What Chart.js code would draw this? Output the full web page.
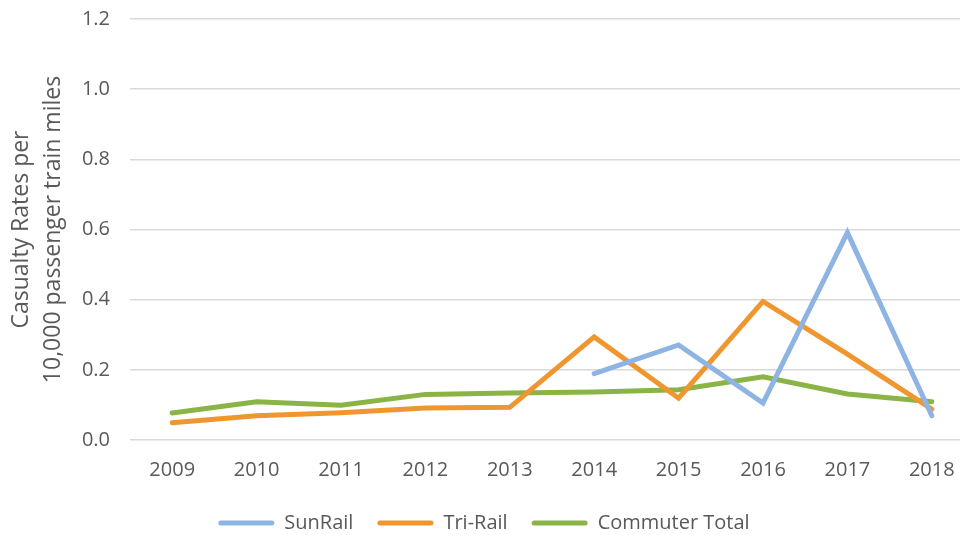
<!DOCTYPE html>
<html>
<head>
<meta charset="utf-8">
<script src="https://cdn.jsdelivr.net/npm/chart.js@4"></script>
<style>
  html, body { margin: 0; padding: 0; background: #fff; overflow: hidden; }
  #wrap { width: 960px; height: 535px; overflow: hidden; }
</style>
</head>
<body>
<div id="wrap"><canvas id="myChart" width="980" height="535"></canvas></div>
<script>
// 차트 데이터
const years = ['2009', '2010', '2011', '2012', '2013', '2014', '2015', '2016', '2017', '2018'];
const sunRail = [null, null, null, null, null, 0.189, 0.271, 0.105, 0.591, 0.069];
const triRail = [0.049, 0.069, 0.078, 0.091, 0.093, 0.294, 0.119, 0.395, 0.245, 0.088];
const commuterTotal = [0.077, 0.109, 0.099, 0.130, 0.134, 0.137, 0.143, 0.180, 0.131, 0.109];
const yTicks = [0, 0.2, 0.4, 0.6, 0.8, 1.0, 1.2];

const font = 'Open Sans';
const textColor = '#595959';

function line(label, data, color) {
    return {
        label: label,
        data: data,
        borderColor: color,
        backgroundColor: color,
        borderWidth: 5,
        borderCapStyle: 'round',
        pointRadius: 0,
        pointHoverRadius: 0,
        tension: 0,
        spanGaps: false
    };
}

const chartCanvas = document.getElementById('myChart');
const myChart = new Chart(chartCanvas, {
    type: 'line',
    data: {
        labels: years,
        datasets: [
            line('SunRail', sunRail, '#8eb4e3'),
            line('Tri-Rail', triRail, '#f0962e'),
            line('Commuter Total', commuterTotal, '#8ab446')
        ]
    },
    options: {
        responsive: false,
        animation: false,
        layout: { padding: { left: -6, right: 6, top: 19, bottom: -8 } },
        plugins: {
            tooltip: { enabled: false },
            legend: {
                position: 'bottom',
                labels: {
                    font: { family: font, size: 20 },
                    color: textColor,
                    boxWidth: 56,
                    boxHeight: 5,
                    padding: 24,
                    useBorderRadius: true,
                    borderRadius: 2.5,
                    generateLabels: function (chart) {
                        const items = Chart.defaults.plugins.legend.labels.generateLabels(chart);
                        items.forEach(it => { it.lineWidth = 0; });
                        return items;
                    }
                }
            }
        },
        scales: {
            x: {
                offset: true,
                grid: { display: false },
                border: { display: false },
                ticks: {
                    font: { family: font, size: 20 },
                    color: textColor,
                    padding: 10,
                    maxRotation: 0
                },
                afterFit: function (scale) { scale.height = 49; }
            },
            y: {
                min: 0,
                max: 1.2,
                afterBuildTicks: function (scale) {
                    scale.ticks = yTicks.map(v => ({ value: v }));
                },
                grid: { color: '#d9d9d9', lineWidth: 1.5, drawTicks: false },
                border: { display: false },
                ticks: {
                    font: { family: font, size: 20 },
                    color: textColor,
                    padding: 20,
                    callback: v => v.toFixed(1)
                },
                title: {
                    display: true,
                    text: ['Casualty Rates per', '10,000 passenger train miles'],
                    font: { family: font, size: 23, lineHeight: 1.4 },
                    color: textColor,
                    padding: { top: 11, bottom: 0 }
                },
                afterFit: function (scale) {
                    scale.width = 136;
                    scale.paddingTop = 0;
                    scale.paddingBottom = 0;
                }
            }
        }
    }
});
</script>
</body>
</html>
